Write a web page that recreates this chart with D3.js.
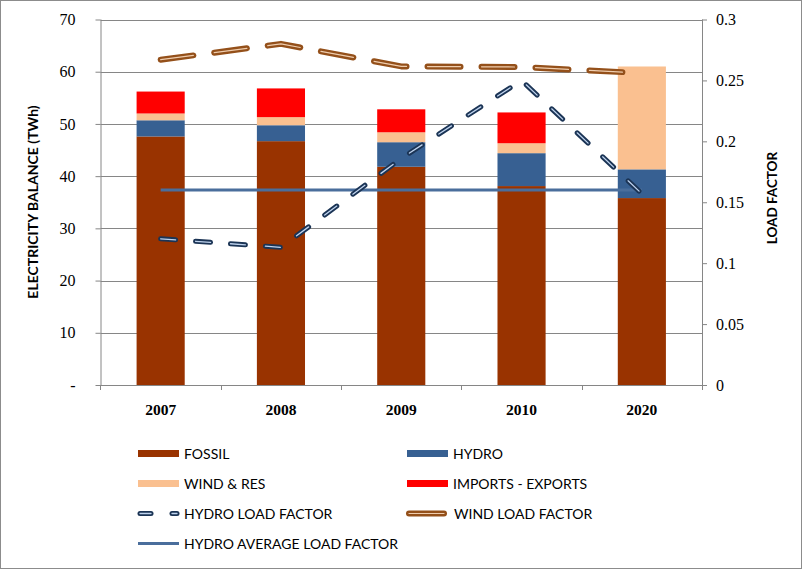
<!DOCTYPE html>
<html>
<head>
<meta charset="utf-8">
<script src="https://cdn.jsdelivr.net/npm/d3@7/dist/d3.min.js"></script>
<style>
  html, body { margin: 0; padding: 0; background: #fff; }
  svg { display: block; }
</style>
</head>
<body>
<svg id="chart" width="802" height="569"></svg>
<script>
// ---- DATA ----
const categories = ["2007", "2008", "2009", "2010", "2020"];
const fossil = [47.6, 46.7, 41.8, 38.1, 35.8];
const hydro = [3.1, 3.05, 4.7, 6.3, 5.5];
const windRes = [1.3, 1.55, 1.9, 1.9, 19.7];
const importsExports = [4.2, 5.5, 4.4, 5.9, 0];
const hydroLoadFactor = [0.12, 0.113, 0.186, 0.25, 0.157];
const windLoadFactor = [0.267, 0.280, 0.2615, 0.261, 0.256];
const hydroAvgLoadFactor = [0.16, 0.16, 0.16, 0.16, 0.16];
const leftTicks = [0, 10, 20, 30, 40, 50, 60, 70];
const leftTickLabels = ["-", "10", "20", "30", "40", "50", "60", "70"];
const rightTicks = [0, 0.05, 0.1, 0.15, 0.2, 0.25, 0.3];
const rightTickLabels = ["0", "0.05", "0.1", "0.15", "0.2", "0.25", "0.3"];
const seriesNames = ["FOSSIL", "HYDRO", "WIND & RES", "IMPORTS - EXPORTS"];
const lineNames = ["HYDRO LOAD FACTOR", "WIND LOAD FACTOR", "HYDRO AVERAGE LOAD FACTOR"];

// ---- STYLE ----
const colors = {
  "FOSSIL": "#993300",
  "HYDRO": "#376092",
  "WIND & RES": "#FAC090",
  "IMPORTS - EXPORTS": "#FF0000"
};
const gridColor = "#868686";
const serif = "'Liberation Serif', 'DejaVu Serif', serif";
const sans = "Lato, 'Open Sans', sans-serif";

const svg = d3.select("#chart");
const pLeft = 100.5, pRight = 702, pTop = 19.5, pBottom = 385;

// border
svg.append("rect").attr("x", 0.5).attr("y", 0.5).attr("width", 801).attr("height", 568)
  .attr("fill", "#fff").attr("stroke", "#8c8c8c");

const x = d3.scaleBand().domain(categories).range([pLeft, pRight]).paddingInner(0.6).paddingOuter(0.3);
const yL = d3.scaleLinear().domain([0, 70]).range([pBottom, pTop]);
const yR = d3.scaleLinear().domain([0, 0.3]).range([pBottom, pTop]);

// gridlines
svg.append("g").selectAll("line").data(leftTicks.filter(d => d > 0)).join("line")
  .attr("x1", pLeft).attr("x2", pRight)
  .attr("y1", d => Math.round(yL(d)) + 0.5).attr("y2", d => Math.round(yL(d)) + 0.5)
  .attr("stroke", gridColor).attr("stroke-width", 1);

// stacked bars
const rows = categories.map((c, i) => ({
  cat: c,
  "FOSSIL": fossil[i],
  "HYDRO": hydro[i],
  "WIND & RES": windRes[i],
  "IMPORTS - EXPORTS": importsExports[i]
}));
const stacked = d3.stack().keys(seriesNames)(rows);
svg.append("g").selectAll("g").data(stacked).join("g")
  .attr("fill", d => colors[d.key])
  .selectAll("rect").data(d => d).join("rect")
  .attr("x", d => x(d.data.cat))
  .attr("width", x.bandwidth())
  .attr("y", d => yL(d[1]))
  .attr("height", d => Math.max(0, yL(d[0]) - yL(d[1])));

// axes
const axL = d3.axisLeft(yL).tickValues(leftTicks).tickFormat((d, i) => leftTickLabels[i]).tickSize(5).tickPadding(20);
const gL = svg.append("g").attr("transform", `translate(${pLeft},0)`).call(axL);
const axR = d3.axisRight(yR).tickValues(rightTicks).tickFormat((d, i) => rightTickLabels[i]).tickSize(5).tickPadding(9);
const gR = svg.append("g").attr("transform", `translate(${pRight},0)`).call(axR);
[gL, gR].forEach(g => {
  g.selectAll("path.domain").attr("stroke", gridColor).attr("d", `M0.5,${pTop}V${pBottom}`);
  g.selectAll(".tick line").attr("stroke", gridColor);
  g.selectAll(".tick text").attr("font-family", serif).attr("font-size", 16).attr("fill", "#000");
});

// x axis
svg.append("line").attr("x1", pLeft).attr("x2", pRight).attr("y1", pBottom + 0.5).attr("y2", pBottom + 0.5)
  .attr("stroke", gridColor);
const bounds = categories.map(c => x(c) - x.step() * x.paddingInner() / 2);
bounds.push(pRight);
svg.append("g").selectAll("line").data(bounds).join("line")
  .attr("x1", d => Math.round(d) + 0.5).attr("x2", d => Math.round(d) + 0.5)
  .attr("y1", pBottom).attr("y2", pBottom + 5).attr("stroke", gridColor);
svg.append("g").selectAll("text").data(categories).join("text")
  .attr("x", d => x(d) + x.bandwidth() / 2).attr("y", 415)
  .attr("text-anchor", "middle").attr("font-family", serif).attr("font-weight", "bold")
  .attr("font-size", 15.5).text(d => d);

// axis titles
svg.append("text").attr("transform", "translate(38,202) rotate(-90)")
  .attr("text-anchor", "middle").attr("font-family", sans).attr("font-weight", "bold")
  .attr("font-size", 14).text("ELECTRICITY BALANCE (TWh)");
svg.append("text").attr("transform", "translate(777,198) rotate(-90)")
  .attr("text-anchor", "middle").attr("font-family", sans).attr("font-weight", "bold")
  .attr("font-size", 13.5).text("LOAD FACTOR");

// lines
const cx = d => x(d) + x.bandwidth() / 2;
const line = d3.line().x((d, i) => cx(categories[i])).y(d => yR(d));

svg.append("path").attr("d", line(hydroAvgLoadFactor)).attr("fill", "none")
  .attr("stroke", "#4A6E9C").attr("stroke-width", 3);

function doubleLine(data, outer, inner, dash, wOuter, wInner) {
  svg.append("path").attr("d", line(data)).attr("fill", "none")
    .attr("stroke", outer).attr("stroke-width", wOuter).attr("stroke-dasharray", dash)
    .attr("stroke-linecap", "round").attr("stroke-linejoin", "round");
  svg.append("path").attr("d", line(data)).attr("fill", "none")
    .attr("stroke", inner).attr("stroke-width", wInner).attr("stroke-dasharray", dash)
    .attr("stroke-linecap", "round").attr("stroke-linejoin", "round");
}
doubleLine(hydroLoadFactor, "#1B3455", "#BFD3EE", "15,20", 5, 1.3);
doubleLine(windLoadFactor, "#94501A", "#EFCDAE", "33,21", 6, 1.2);

// legend
const legend = svg.append("g").attr("font-family", sans).attr("font-size", 14).attr("fill", "#000");
const legItems = [
  { name: "FOSSIL", type: "bar", col: 0, row: 0 },
  { name: "HYDRO", type: "bar", col: 1, row: 0 },
  { name: "WIND & RES", type: "bar", col: 0, row: 1 },
  { name: "IMPORTS - EXPORTS", type: "bar", col: 1, row: 1 },
  { name: "HYDRO LOAD FACTOR", type: "hlf", col: 0, row: 2 },
  { name: "WIND LOAD FACTOR", type: "wlf", col: 1, row: 2 },
  { name: "HYDRO AVERAGE LOAD FACTOR", type: "avg", col: 0, row: 3 }
];
const colX = [138, 407], rowY = [453.5, 483.5, 513.5, 543.5];
legItems.forEach(it => {
  const gx = colX[it.col], gy = rowY[it.row];
  const g = legend.append("g");
  if (it.type === "bar") {
    g.append("rect").attr("x", gx).attr("y", gy - 3.5).attr("width", 41).attr("height", 7).attr("fill", colors[it.name]);
  } else if (it.type === "hlf") {
    [[gx + 2, gx + 13], [gx + 34, gx + 39]].forEach(s => {
      g.append("line").attr("x1", s[0]).attr("x2", s[1]).attr("y1", gy).attr("y2", gy)
        .attr("stroke", "#1B3455").attr("stroke-width", 5).attr("stroke-linecap", "round");
      g.append("line").attr("x1", s[0]).attr("x2", s[1]).attr("y1", gy).attr("y2", gy)
        .attr("stroke", "#BFD3EE").attr("stroke-width", 1.3).attr("stroke-linecap", "round");
    });
  } else if (it.type === "wlf") {
    g.append("line").attr("x1", gx + 2).attr("x2", gx + 37).attr("y1", gy).attr("y2", gy)
      .attr("stroke", "#94501A").attr("stroke-width", 6).attr("stroke-linecap", "round");
    g.append("line").attr("x1", gx + 2).attr("x2", gx + 37).attr("y1", gy).attr("y2", gy)
      .attr("stroke", "#EFCDAE").attr("stroke-width", 1.2).attr("stroke-linecap", "round");
  } else {
    g.append("line").attr("x1", gx).attr("x2", gx + 41).attr("y1", gy).attr("y2", gy)
      .attr("stroke", "#4A6E9C").attr("stroke-width", 3);
  }
  const tx = it.type === "wlf" ? gx + 47 : gx + 46;
  g.append("text").attr("x", tx).attr("y", gy + 5.5).text(it.name);
});
</script>
</body>
</html>
